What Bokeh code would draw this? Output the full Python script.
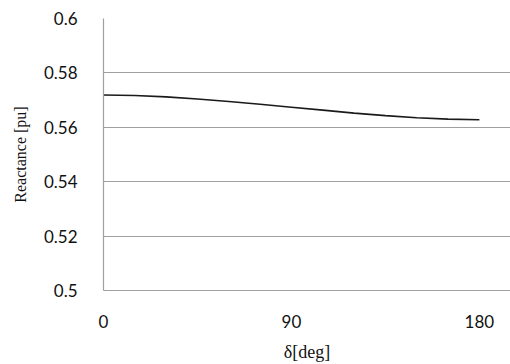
from bokeh.plotting import figure
from bokeh.models import FixedTicker, Range1d
from bokeh.embed import file_html
from bokeh.resources import INLINE

delta = [0, 15, 30, 45, 60, 75, 90, 105, 120, 135, 150, 165, 180]
reactance = [0.5719, 0.5717, 0.5712, 0.5704, 0.5695, 0.5685, 0.5674,
             0.5663, 0.5652, 0.5643, 0.5635, 0.5630, 0.5628]
x_ticks = [0, 90, 180]
y_ticks = [0.5, 0.52, 0.54, 0.56, 0.58, 0.6]

p = figure(width=510, height=364, output_backend="svg", toolbar_location=None,
           x_range=Range1d(0, 194.9), y_range=Range1d(0.5, 0.6),
           min_border_left=103, min_border_right=0, min_border_top=18,
           min_border_bottom=72)
p.outline_line_color = None
p.background_fill_color = "white"

p.line(delta, reactance, line_color="#1a1a1a", line_width=1.6)

for ax in (p.xaxis[0], p.yaxis[0]):
    ax.axis_line_color = "#a0a0a0"
    ax.axis_line_width = 1.2
    ax.major_tick_line_color = None
    ax.minor_tick_line_color = None
    ax.major_label_text_font = "Lato"
    ax.major_label_text_font_size = "17px"
    ax.major_label_text_color = "#111111"
    ax.axis_label_text_font = "Liberation Serif"
    ax.axis_label_text_font_style = "normal"
    ax.axis_label_text_color = "#111111"

p.xaxis.ticker = FixedTicker(ticks=x_ticks)
p.yaxis.ticker = FixedTicker(ticks=y_ticks)
p.yaxis.major_label_overrides = {0.5: "0.5", 0.52: "0.52", 0.54: "0.54",
                                 0.56: "0.56", 0.58: "0.58", 0.6: "0.6"}
p.xaxis.major_label_standoff = 18
p.yaxis.major_label_standoff = 20
p.xaxis.axis_label = "δ[deg]"
p.yaxis.axis_label = "Reactance [pu]"
p.xaxis.axis_label_text_font_size = "18px"
p.yaxis.axis_label_text_font_size = "16px"
p.xaxis.axis_label_standoff = 11
p.yaxis.axis_label_standoff = 12

p.xgrid.grid_line_color = None
p.ygrid.grid_line_color = "#a0a0a0"
p.ygrid.grid_line_width = 1.2

open("out.html", "w").write(file_html(p, INLINE))
